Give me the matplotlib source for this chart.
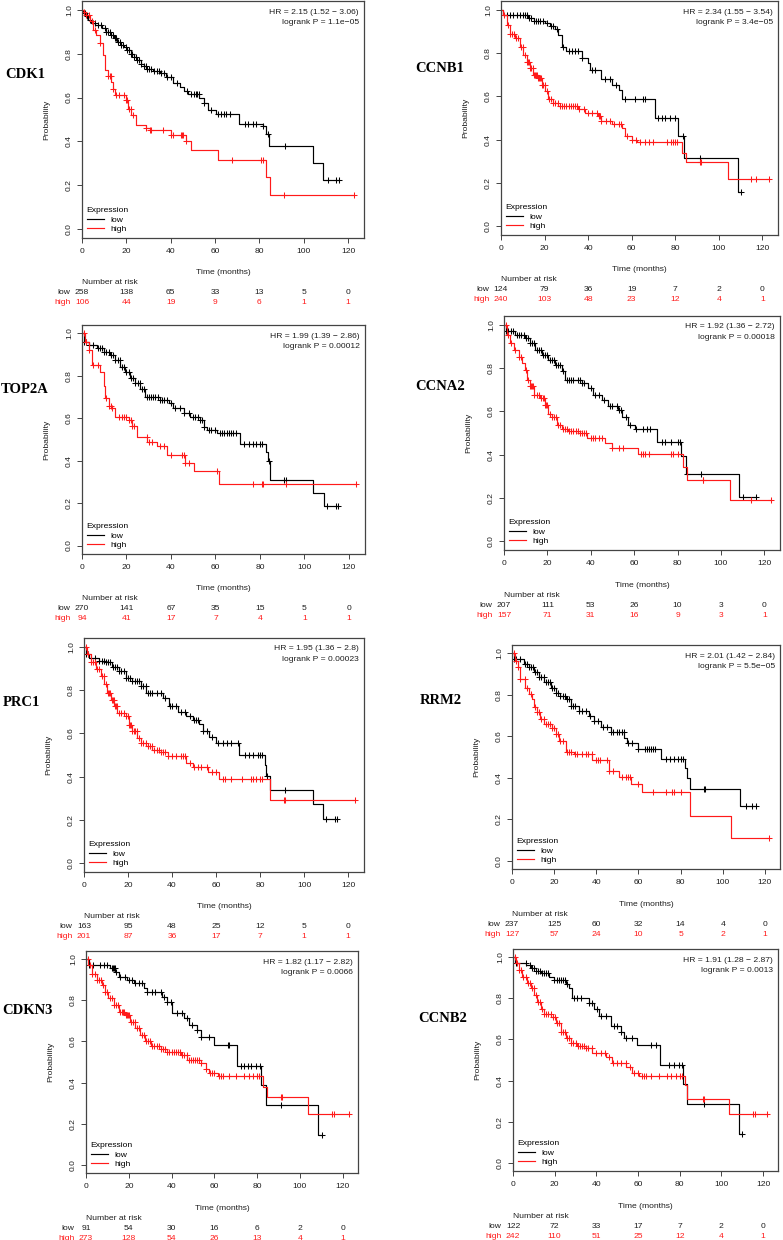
import numpy as np
import matplotlib.pyplot as plt
from matplotlib.lines import Line2D

plt.rcParams['font.family'] = ['Liberation Sans', 'DejaVu Sans']

# ---- data (time in months, survival probability) ----
genes = ["CDK1", "CCNB1", "TOP2A", "CCNA2", "PRC1", "RRM2", "CDKN3", "CCNB2"]
hr_lines = ["HR = 2.15 (1.52 \u2212 3.06)", "HR = 2.34 (1.55 \u2212 3.54)",
            "HR = 1.99 (1.39 \u2212 2.86)", "HR = 1.92 (1.36 \u2212 2.72)",
            "HR = 1.95 (1.36 \u2212 2.8)", "HR = 2.01 (1.42 \u2212 2.84)",
            "HR = 1.82 (1.17 \u2212 2.82)", "HR = 1.91 (1.28 \u2212 2.87)"]
p_lines = ["logrank P = 1.1e\u221205", "logrank P = 3.4e\u221205",
           "logrank P = 0.00012", "logrank P = 0.00018",
           "logrank P = 0.00023", "logrank P = 5.5e\u221205",
           "logrank P = 0.0066", "logrank P = 0.0013"]
risk_times = [0, 20, 40, 60, 80, 100, 120]
risk_low = [[258, 138, 65, 33, 13, 5, 0], [124, 79, 36, 19, 7, 2, 0],
            [270, 141, 67, 35, 15, 5, 0], [207, 111, 53, 26, 10, 3, 0],
            [163, 95, 48, 25, 12, 5, 0], [237, 125, 60, 32, 14, 4, 0],
            [91, 54, 30, 16, 6, 2, 0], [122, 72, 33, 17, 7, 2, 0]]
risk_high = [[106, 44, 19, 9, 6, 1, 1], [240, 103, 48, 23, 12, 4, 1],
             [94, 41, 17, 7, 4, 1, 1], [157, 71, 31, 16, 9, 3, 1],
             [201, 87, 36, 17, 7, 1, 1], [127, 57, 24, 10, 5, 2, 1],
             [273, 128, 54, 26, 13, 4, 1], [242, 110, 51, 25, 12, 4, 1]]

# CDK1
cdk1_low_t = [0, 0.5, 1.5, 2.5, 4, 6, 9, 11, 13, 14.5, 16, 17.5, 19, 20.5, 22, 23.5, 25, 26.5, 28, 29,
              32, 35, 38, 41, 44, 46, 48, 53, 55, 57, 60.6, 71, 81.5, 83, 84.4, 104, 108.7]
cdk1_low_s = [1, 0.985, 0.97, 0.955, 0.94, 0.93, 0.915, 0.9, 0.885, 0.87, 0.855, 0.84, 0.83, 0.815, 0.8,
              0.785, 0.77, 0.755, 0.745, 0.73, 0.72, 0.71, 0.695, 0.665, 0.646, 0.63, 0.615, 0.6, 0.573,
              0.545, 0.527, 0.48, 0.47, 0.433, 0.38, 0.3, 0.226]
cdk1_low_c = [1.2, 2.3, 3.5, 5.7, 7.2, 8.7, 10.2, 11, 11.7, 12.5, 13.2, 14, 14.7, 15.5, 16.2, 17, 17.7,
              18.6, 19.7, 20.5, 21.2, 22, 22.7, 23.5, 24.2, 25, 25.7, 26.5, 28, 28.7, 29.5, 30.2, 31,
              32.5, 34, 34.7, 35.5, 37, 38.5, 40, 43, 47.5, 49, 50.5, 51.2, 52, 52.7, 55, 58.3, 61.3,
              62.8, 63.9, 65.1, 66.6, 73.4, 74.9, 77.2, 78.7, 81.7, 84, 91.4, 110.9, 114.7, 116]
cdk1_high_t = [0, 1, 2, 3.5, 5, 6.5, 8, 9.5, 10.2, 11.7, 13.2, 14, 14.7, 20, 20.8, 22.3, 24.5, 29, 30.5,
               40, 47, 49.3, 61.3, 83.2, 84.7]
cdk1_high_s = [1, 0.99, 0.977, 0.947, 0.91, 0.886, 0.85, 0.795, 0.726, 0.7, 0.672, 0.64, 0.61, 0.59,
               0.55, 0.52, 0.474, 0.46, 0.45, 0.43, 0.4, 0.36, 0.317, 0.24, 0.157]
cdk1_high_c = [1, 2, 3, 4.5, 6, 8, 11.7, 12.5, 13, 14, 15.5, 16.5, 19, 20, 20.5, 21, 22, 23, 29, 30.5,
               31.3, 36.5, 40, 41, 44.5, 45, 45.5, 47, 67.7, 80.6, 81.6, 91, 122.5]

# CCNB1
ccnb1_low_t = [0, 1, 12.5, 15, 20, 22.5, 24.8, 26.3, 27.9, 30, 37, 40, 41, 46, 51, 54, 55.4, 70.7, 81.4,
               84.2, 109]
ccnb1_low_s = [1, 0.975, 0.96, 0.946, 0.94, 0.923, 0.91, 0.885, 0.83, 0.81, 0.777, 0.754, 0.72, 0.68,
               0.654, 0.63, 0.59, 0.5, 0.415, 0.315, 0.157]
ccnb1_low_c = [2.6, 4.1, 5.7, 7.2, 8.7, 10.2, 11, 12, 13, 14, 15, 16, 17, 18, 19.5, 21, 23, 24, 25.5,
               28.6, 31, 32.5, 34, 35.5, 37, 41.6, 43, 47.8, 50, 53, 57, 61.6, 65.4, 66, 72.3, 73.8,
               75.3, 77.6, 80, 83.8, 91.4, 110]
ccnb1_high_t = [0, 1, 2.6, 4, 6.4, 8.7, 10.2, 11.8, 13.3, 14.8, 17, 18.7, 20.2, 21.7, 24, 26.3, 35.5,
                38.6, 44.7, 46, 51, 55.4, 57, 60, 62.3, 83, 84.8, 104.4]
ccnb1_high_s = [1, 0.977, 0.93, 0.89, 0.87, 0.83, 0.79, 0.76, 0.73, 0.7, 0.685, 0.654, 0.623, 0.59,
                0.57, 0.554, 0.54, 0.523, 0.51, 0.485, 0.47, 0.454, 0.418, 0.4, 0.39, 0.34, 0.297, 0.22]
ccnb1_high_c = [1.5, 3, 4, 5, 6, 7, 8, 9, 10, 11, 12, 12.5, 13, 13.5, 14, 14.5, 15, 15.5, 16, 16.5, 17,
                17.5, 18, 18.5, 19, 19.5, 20, 21, 22, 23, 24, 25, 26, 27, 28, 29, 30, 31, 32, 33, 34,
                35, 36, 38, 40, 42, 44, 45, 45.5, 46, 48, 50, 52, 54, 55, 58, 60, 62, 64, 66, 68, 70,
                76, 78, 79, 80, 81, 91.5, 92, 115, 117, 123]

# TOP2A
top2a_low_t = [0, 1, 3, 6.7, 9.7, 12.7, 15, 17.2, 19.5, 21.7, 24, 26.2, 28.5, 35, 39, 41, 45.7, 48.7, 53,
               54.7, 56.2, 60.7, 70.9, 82.5, 83.7, 84.7, 104, 108.7]
top2a_low_s = [1, 0.96, 0.945, 0.93, 0.914, 0.9, 0.875, 0.843, 0.82, 0.79, 0.765, 0.74, 0.7, 0.686,
               0.67, 0.647, 0.623, 0.607, 0.59, 0.56, 0.545, 0.53, 0.48, 0.443, 0.4, 0.31, 0.25, 0.188]
top2a_low_c = [1, 2, 3, 5, 7, 8, 9, 10, 11, 12, 13, 14, 15, 16, 17, 18, 19, 20, 21, 22, 23, 24, 25, 26,
               27, 28, 29, 30, 31, 32, 33, 34, 35, 36, 37, 38, 40, 42, 44, 46, 48, 50, 51, 52, 53, 54,
               55, 57, 58, 60, 62, 63, 64, 65, 66, 67, 68, 69, 73, 75, 77, 78, 80, 81, 84, 91, 91.5,
               110, 114, 115]
top2a_high_t = [0, 1.5, 3, 4.5, 8.2, 9.7, 10.5, 12, 13.5, 15, 21, 22.5, 24.7, 29.2, 33.7, 38.2, 46.5,
                50.2, 61.5]
top2a_high_s = [1, 0.96, 0.92, 0.85, 0.82, 0.75, 0.694, 0.66, 0.647, 0.607, 0.59, 0.565, 0.513, 0.49,
                0.47, 0.427, 0.388, 0.35, 0.29]
top2a_high_c = [1, 2, 3, 5, 7, 11, 12, 13, 13.5, 16.5, 18, 19, 20, 21, 22, 22.5, 23.3, 29, 30, 31.5, 35,
                36.7, 40, 45, 46, 46.5, 48, 60.7, 77, 80.7, 81.2, 91.5, 123]

# CCNA2
ccna2_low_t = [0, 1, 5.2, 9.8, 12, 14.4, 17.5, 20.5, 23.6, 26.6, 28.2, 35.8, 38.9, 41.2, 45, 48, 52.6,
               54.2, 57.2, 60.3, 70.3, 81.7, 84, 108.5]
ccna2_low_s = [1, 0.97, 0.954, 0.94, 0.915, 0.884, 0.86, 0.838, 0.815, 0.784, 0.745, 0.73, 0.707, 0.676,
               0.653, 0.625, 0.606, 0.572, 0.537, 0.517, 0.46, 0.393, 0.313, 0.205]
ccna2_low_c = [1, 2, 3, 4, 6, 7, 8, 9, 10, 11, 12, 13, 14, 15, 16, 17, 18, 19, 20, 21, 22, 23, 24, 25,
               26, 27, 29, 30, 31, 32, 34, 35, 36, 37, 40, 42, 44, 46, 49, 50, 52, 53, 54, 56, 58, 61,
               64, 65.7, 67.2, 72.6, 74, 77, 80, 81, 84.3, 91, 110, 116]
ccna2_high_t = [0, 1.4, 2.9, 4.4, 6.7, 8.3, 9.8, 10.6, 12, 13.6, 16.7, 19, 20.5, 22, 24.3, 26.6, 29.7,
                34.3, 38.1, 46.5, 49.6, 61.8, 82.5, 84.5, 104]
ccna2_high_s = [1, 0.954, 0.915, 0.884, 0.853, 0.823, 0.79, 0.745, 0.717, 0.676, 0.66, 0.63, 0.59, 0.576,
                0.537, 0.52, 0.51, 0.5, 0.475, 0.455, 0.432, 0.403, 0.344, 0.282, 0.19]
ccna2_high_c = [1, 2, 3, 5, 7, 8, 10, 11, 12, 12.5, 13, 13.5, 14, 15, 16, 17, 18, 18.5, 19, 19.5, 20,
                21, 22, 23, 24, 25, 26, 27, 28, 29, 30, 31, 32, 33, 34, 35, 36, 37, 38, 40, 41, 42, 44,
                45, 50, 53, 55, 63, 64, 65, 67, 77, 78, 80, 91.5, 91.8, 114, 123]

# PRC1
prc1_low_t = [0, 1, 2.3, 6.8, 9.9, 12.9, 16, 19, 22, 25.8, 28.1, 35.7, 38.7, 42.5, 46.3, 49.4, 52.4, 54,
              57, 60, 70.6, 82, 82.8, 84.3, 104, 108.6]
prc1_low_s = [1, 0.966, 0.946, 0.935, 0.927, 0.904, 0.89, 0.857, 0.84, 0.82, 0.787, 0.764, 0.725, 0.697,
              0.68, 0.663, 0.644, 0.61, 0.585, 0.557, 0.5, 0.453, 0.402, 0.34, 0.275, 0.205]
prc1_low_c = [1, 2, 5, 7, 8, 9, 10, 11, 12, 13, 14, 15, 16, 17, 18, 19, 20, 21, 22, 23, 24, 25, 26, 27,
              28, 29, 30, 31, 33, 35, 37, 39, 40, 42, 44, 46, 48, 50, 51, 52, 54, 56, 58, 61, 63, 65,
              67, 70, 73, 75, 77, 79, 80, 81, 83, 91.5, 110, 114, 115]
prc1_high_t = [0, 1.5, 3, 5.3, 7.6, 9.1, 10.6, 12.2, 13.7, 15.2, 19, 20.5, 22, 24.3, 25.8, 28.1, 31.1,
               34.2, 38, 46.3, 49.4, 56.2, 61.5, 84.3]
prc1_high_s = [1, 0.966, 0.927, 0.896, 0.865, 0.826, 0.787, 0.756, 0.725, 0.694, 0.678, 0.64, 0.61,
               0.578, 0.554, 0.54, 0.523, 0.516, 0.495, 0.464, 0.446, 0.422, 0.39, 0.293]
prc1_high_c = [1, 2, 3, 4, 5, 6, 7, 8, 9, 10, 11, 11.5, 12, 12.5, 13, 13.5, 14, 14.5, 15, 16, 17, 18,
               19, 20, 20.5, 21, 21.5, 22, 22.5, 23, 24, 25, 26, 27, 28, 29, 30, 31, 32, 33, 34, 35, 36,
               37, 38, 40, 42, 44, 45, 46, 48, 50, 52, 53, 56, 58, 60, 63, 64, 67, 72, 76, 77, 78, 80,
               81, 91, 91.5, 123]

# RRM2
rrm2_low_t = [0, 1, 5.6, 8, 10.3, 12.7, 15.1, 18.3, 20.7, 23, 25.4, 27.8, 31.8, 36.6, 39, 42.1, 46.9,
              53.3, 54.8, 59.6, 70.7, 81.9, 83.1, 84.3, 108.1]
rrm2_low_s = [1, 0.973, 0.948, 0.932, 0.908, 0.884, 0.86, 0.835, 0.81, 0.795, 0.78, 0.747, 0.723, 0.698,
              0.674, 0.647, 0.62, 0.594, 0.566, 0.537, 0.489, 0.448, 0.4, 0.348, 0.263]
rrm2_low_c = [1, 2, 4, 6, 7, 8, 9, 10, 11, 12, 13, 14, 15, 16, 17, 18, 19, 20, 21, 22, 23, 24, 25, 26,
              27, 28, 29, 30, 32, 33, 35, 37, 39, 41, 43, 45, 47, 48, 50, 51, 52, 53, 55, 57, 60, 63,
              64, 65, 66, 67, 68, 73, 75, 77, 79, 80, 81, 91, 91.5, 111, 114, 116]
rrm2_high_t = [0, 1.6, 2.9, 4, 6.4, 8, 9.5, 10.3, 11.9, 13.5, 15.1, 19, 20.7, 22.3, 25.4, 29.4, 38.2,
               46, 50.9, 56.4, 61.7, 84.3, 104.1]
rrm2_high_s = [1, 0.965, 0.932, 0.876, 0.835, 0.803, 0.78, 0.74, 0.715, 0.682, 0.658, 0.642, 0.61,
               0.577, 0.524, 0.513, 0.485, 0.432, 0.405, 0.37, 0.33, 0.215, 0.11]
rrm2_high_c = [1, 2, 3, 4, 6, 7, 9, 11, 12, 13, 14, 15, 16, 17, 18, 19, 20, 21, 22, 23, 24, 26, 27, 28,
               30, 31, 33, 35, 36, 38, 40, 41, 42, 45, 46, 48, 52, 54, 55, 56, 60, 67, 73, 76, 77, 80,
               122]

# CDKN3
cdkn3_low_t = [0, 1.6, 11.3, 13.7, 15.2, 19.2, 22.3, 27, 28.6, 35.7, 38, 40.4, 45.9, 48.2, 52.1, 53.7,
               60, 70.7, 82, 84.3, 108.4]
cdkn3_low_s = [1, 0.972, 0.956, 0.94, 0.915, 0.9, 0.883, 0.858, 0.842, 0.818, 0.793, 0.737, 0.712, 0.68,
               0.655, 0.62, 0.582, 0.48, 0.387, 0.293, 0.146]
cdkn3_low_c = [1.6, 3.5, 6.6, 8.2, 9.7, 12, 12.5, 13, 13.5, 14, 16, 18.4, 20, 21.5, 23.1, 24.6, 26.2,
               28.6, 30.9, 32.5, 34.9, 36.4, 38, 39.6, 42.7, 45.1, 47.4, 49.8, 52.1, 53.7, 57.6, 66.3,
               67, 72.5, 74.1, 75.7, 77.2, 79.6, 81.2, 91.4, 110.2]
cdkn3_high_t = [0, 1.1, 2.7, 5, 7.4, 9, 10.5, 12.9, 15.2, 18.4, 20.7, 23.1, 25.4, 27.8, 30.2, 34.9, 38,
                44.3, 47.4, 53.7, 56, 57.6, 61.6, 82.8, 84.8, 104]
cdkn3_high_s = [1, 0.972, 0.93, 0.9, 0.875, 0.842, 0.81, 0.777, 0.745, 0.728, 0.696, 0.663, 0.63, 0.603,
                0.577, 0.565, 0.55, 0.533, 0.51, 0.496, 0.468, 0.447, 0.43, 0.378, 0.33, 0.249]
cdkn3_high_c = [1, 2, 3, 4, 5, 6, 7, 8, 9, 10, 11, 12, 13, 14, 15, 16, 17, 17.5, 18, 18.5, 19, 19.5, 20,
                21, 22, 23, 24, 25, 26, 27, 28, 29, 30, 31, 32, 33, 34, 35, 36, 37, 38, 39, 40, 41, 42,
                43, 44, 45, 46, 47, 48, 49, 50, 51, 52, 53, 54, 56, 58, 59, 60, 62, 63, 64, 67, 70, 74,
                76, 78, 80, 81, 91, 91.5, 115, 116, 123]

# CCNB2
ccnb2_low_t = [0, 1, 6.1, 8.5, 10.9, 13.3, 17.3, 19.7, 25.3, 26.9, 28.2, 36.5, 38.9, 41.3, 46.9, 51.7,
               53.3, 59.7, 70.6, 81.8, 83.7, 108.5]
ccnb2_low_s = [1, 0.97, 0.96, 0.946, 0.935, 0.925, 0.906, 0.89, 0.87, 0.849, 0.803, 0.776, 0.75, 0.715,
               0.665, 0.637, 0.605, 0.572, 0.478, 0.382, 0.288, 0.141]
ccnb2_low_c = [1.6, 6, 8, 9, 10, 11, 12, 13, 14, 15, 16, 17, 19.7, 21, 22, 23, 24, 25, 26, 29.3, 30.9,
               32.5, 36.5, 38, 40.5, 42, 44.5, 48.5, 50, 51.7, 54, 57.3, 66, 68.5, 74.9, 77.3, 79.7,
               81.3, 91.7, 110]
ccnb2_high_t = [0, 1.6, 2.9, 4.5, 6.9, 8.5, 10.1, 11.7, 13.3, 14.9, 18.1, 20.5, 22.9, 25.3, 27.7, 30.9,
                34.9, 38.1, 44.5, 47.7, 54.1, 57.3, 60.5, 82.6, 83.7, 103.7]
ccnb2_high_s = [1, 0.97, 0.938, 0.902, 0.873, 0.849, 0.816, 0.784, 0.75, 0.724, 0.707, 0.678, 0.637,
                0.605, 0.584, 0.567, 0.556, 0.535, 0.515, 0.486, 0.467, 0.437, 0.42, 0.377, 0.312, 0.236]
ccnb2_high_c = [1, 2, 3, 4, 5, 6, 7, 8, 9, 10, 11, 12, 13, 14, 15, 16, 17, 18, 19, 20, 21, 22, 23, 24,
                25, 26, 27, 28, 29, 30, 31, 32, 33, 34, 35, 36, 38, 40, 42, 44, 46, 48, 50, 52, 54, 56,
                58, 60, 62, 63, 64, 66, 70, 74, 76, 78, 80, 81, 91, 91.5, 115, 116, 122]

low_curves = [(cdk1_low_t, cdk1_low_s, cdk1_low_c), (ccnb1_low_t, ccnb1_low_s, ccnb1_low_c),
              (top2a_low_t, top2a_low_s, top2a_low_c), (ccna2_low_t, ccna2_low_s, ccna2_low_c),
              (prc1_low_t, prc1_low_s, prc1_low_c), (rrm2_low_t, rrm2_low_s, rrm2_low_c),
              (cdkn3_low_t, cdkn3_low_s, cdkn3_low_c), (ccnb2_low_t, ccnb2_low_s, ccnb2_low_c)]
high_curves = [(cdk1_high_t, cdk1_high_s, cdk1_high_c), (ccnb1_high_t, ccnb1_high_s, ccnb1_high_c),
               (top2a_high_t, top2a_high_s, top2a_high_c), (ccna2_high_t, ccna2_high_s, ccna2_high_c),
               (prc1_high_t, prc1_high_s, prc1_high_c), (rrm2_high_t, rrm2_high_s, rrm2_high_c),
               (cdkn3_high_t, cdkn3_high_s, cdkn3_high_c), (ccnb2_high_t, ccnb2_high_s, ccnb2_high_c)]

# ---- layout (pixels: left, right, top, bottom of each plot box) ----
W, H = 783, 1240
boxes = [(82, 364, 1, 238), (501, 778, 1, 235), (82, 365, 325, 554), (504, 780, 316, 550),
         (84, 364, 638, 872), (512, 780, 645, 869), (86, 358, 951, 1173), (513, 778, 949, 1171)]
gene_pos = [(25, 74), (440, 68), (25, 390), (440, 387), (21, 703), (441, 701), (27, 1011), (443, 1018)]

FS = 6.1
RED = '#ff1a1a'
FRAME = '#444444'
TXT = '#1e1e1e'


def km_curve(ax, t, s, cens, color):
    t = np.asarray(t, float)
    s = np.asarray(s, float)
    cens = np.asarray(cens, float)
    end = max(t[-1], cens.max())
    ax.step(np.append(t, end), np.append(s, s[-1]), where='post', color=color, lw=0.85)
    idx = np.searchsorted(t, cens, side='right') - 1
    ax.plot(cens, s[idx], ls='none', marker='+', color=color, ms=4.8, mew=0.75)


fig = plt.figure(figsize=(W / 100, H / 100), dpi=100)

for i, gene in enumerate(genes):
    l, r, top, b = boxes[i]
    ax = fig.add_axes([l / W, 1 - b / H, (r - l) / W, (b - top) / H])
    km_curve(ax, *low_curves[i], 'black')
    km_curve(ax, *high_curves[i], RED)

    ax.set_xlim(0, 127.2)
    ax.set_ylim(-0.04, 1.04)
    ax.set_xticks(risk_times)
    ax.set_yticks([0, 0.2, 0.4, 0.6, 0.8, 1.0])
    ax.set_yticklabels(["0.0", "0.2", "0.4", "0.6", "0.8", "1.0"], rotation=90, va='center')
    ax.tick_params(labelsize=FS, length=3.5, width=0.7, color=FRAME, labelcolor=TXT)
    ax.tick_params(axis='x', pad=3.5)
    ax.tick_params(axis='y', pad=3.0)
    for sp in ax.spines.values():
        sp.set_color(FRAME)
        sp.set_linewidth(0.9)

    ax.text(-35 / (r - l), 0.5, "Probability", transform=ax.transAxes, rotation=90,
            ha='center', va='center', fontsize=FS, color=TXT)

    # HR / logrank text
    ax.annotate(hr_lines[i], xy=(1, 1), xycoords='axes fraction', xytext=(-5, -11),
                textcoords='offset pixels', ha='right', va='center', fontsize=FS, color=TXT)
    ax.annotate(p_lines[i], xy=(1, 1), xycoords='axes fraction', xytext=(-5, -21.5),
                textcoords='offset pixels', ha='right', va='center', fontsize=FS, color=TXT)

    handles = [Line2D([], [], color='black', lw=0.85), Line2D([], [], color=RED, lw=0.85)]
    ax.legend(handles, ["low", "high"], title="Expression", loc='lower left',
              bbox_to_anchor=(0, 0), borderaxespad=0, borderpad=0.55, frameon=False,
              fontsize=FS, title_fontsize=FS, alignment='left', handlelength=2.1,
              handletextpad=0.7, labelspacing=0.2)

    # x label and number at risk table
    ax.annotate("Time (months)", xy=(0.5, 0), xycoords='axes fraction', xytext=(0, -35),
                textcoords='offset pixels', ha='center', va='center', fontsize=FS, color=TXT)
    ax.annotate("Number at risk", xy=(0, 0), xycoords=('data', 'axes fraction'), xytext=(0, -45),
                textcoords='offset pixels', ha='left', va='center', fontsize=FS, color=TXT)
    for lab, row, col, dy in (("low", risk_low[i], TXT, -55), ("high", risk_high[i], RED, -65)):
        ax.annotate(lab, xy=(0, 0), xycoords=('data', 'axes fraction'), xytext=(-11.5, dy),
                    textcoords='offset pixels', ha='right', va='center', fontsize=FS, color=col)
        for tx, n in zip(risk_times, row):
            ax.annotate(str(n), xy=(tx, 0), xycoords=('data', 'axes fraction'), xytext=(0, dy),
                        textcoords='offset pixels', ha='center', va='center', fontsize=FS, color=col)

    gx, gy = gene_pos[i]
    fig.text(gx / W, 1 - gy / H, gene, ha='center', va='center', fontsize=10.5,
             fontweight='bold', family=['Liberation Serif', 'DejaVu Serif'])

fig.savefig("out.png", dpi=100)
